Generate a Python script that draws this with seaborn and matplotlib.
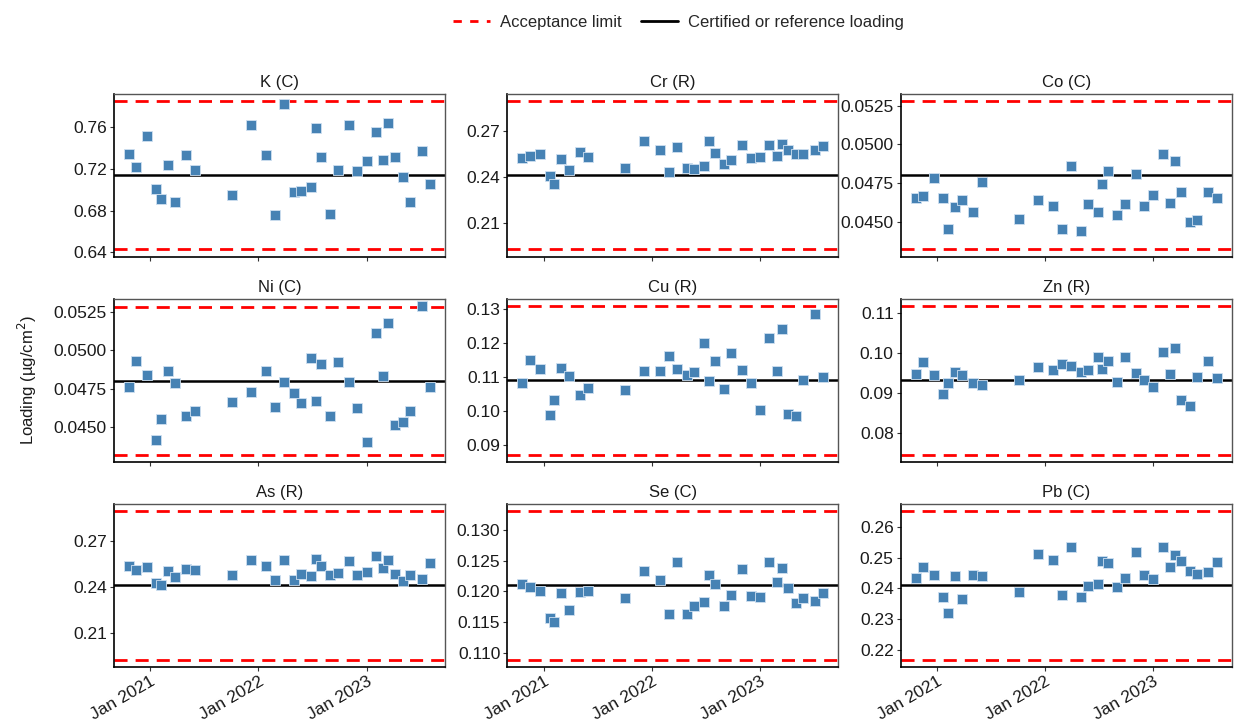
import numpy as np
import pandas as pd
import matplotlib
matplotlib.use("Agg")
import matplotlib.pyplot as plt
import matplotlib.dates as mdates
from matplotlib.ticker import MultipleLocator, FormatStrFormatter
from matplotlib.lines import Line2D
import seaborn as sns

# ---------------------------------
# Data
# ---------------------------------

dates = pd.to_datetime([
    "2020-10-21", "2020-11-15", "2020-12-20", "2021-01-21", "2021-02-06",
    "2021-03-01", "2021-03-26", "2021-05-03", "2021-06-01", "2021-10-03",
    "2021-12-07", "2022-01-27", "2022-02-27", "2022-03-28", "2022-05-01",
    "2022-05-24", "2022-06-27", "2022-07-13", "2022-08-01", "2022-09-01",
    "2022-09-27", "2022-11-03", "2022-12-01", "2023-01-01", "2023-02-01",
    "2023-02-27", "2023-03-16", "2023-04-06", "2023-05-04", "2023-05-28",
    "2023-07-06", "2023-08-03",
])

panels = ["K (C)", "Cr (R)", "Co (C)", "Ni (C)", "Cu (R)", "Zn (R)",
          "As (R)", "Se (C)", "Pb (C)"]

# certified / reference loading and acceptance fraction
ref_values = [0.714, 0.241, 0.048, 0.048, 0.109, 0.0932, 0.241, 0.121, 0.241]
tolerance = [0.10, 0.20, 0.10, 0.10, 0.20, 0.20, 0.20, 0.10, 0.10]

K = [0.7344, 0.7215, 0.7518, 0.7003, 0.6912, 0.7243, 0.6883, 0.7338, 0.7193,
     0.6953, 0.7625, 0.7338, 0.6754, 0.7827, 0.6975, 0.6984, 0.7022, 0.7597,
     0.7313, 0.6763, 0.7186, 0.7625, 0.7177, 0.7278, 0.7559, 0.7291, 0.7638,
     0.7313, 0.7123, 0.6883, 0.7370, 0.7051]
Cr = [0.2523, 0.2532, 0.2547, 0.2402, 0.2350, 0.2514, 0.2445, 0.2558, 0.2525,
      0.2456, 0.2633, 0.2571, 0.2430, 0.2594, 0.2456, 0.2448, 0.2469, 0.2631,
      0.2553, 0.2484, 0.2512, 0.2605, 0.2519, 0.2525, 0.2605, 0.2532, 0.2614,
      0.2571, 0.2549, 0.2549, 0.2571, 0.2601]
Co = [0.04651, 0.04668, 0.04785, 0.04651, 0.04451, 0.04592, 0.04641, 0.04560,
      0.04758, 0.04519, 0.04641, 0.04600, 0.04451, 0.04860, 0.04440, 0.04611,
      0.04560, 0.04741, 0.04830, 0.04540, 0.04611, 0.04811, 0.04600, 0.04670,
      0.04937, 0.04621, 0.04892, 0.04690, 0.04500, 0.04511, 0.04692, 0.04651]
Ni = [0.04761, 0.04931, 0.04838, 0.04414, 0.04552, 0.04862, 0.04787, 0.04571,
      0.04601, 0.04662, 0.04731, 0.04862, 0.04632, 0.04791, 0.04720, 0.04653,
      0.04953, 0.04672, 0.04912, 0.04571, 0.04922, 0.04791, 0.04623, 0.04403,
      0.05112, 0.04830, 0.05179, 0.04511, 0.04530, 0.04601, 0.05289, 0.04761]
Cu = [0.1082, 0.1149, 0.1122, 0.0988, 0.1031, 0.1126, 0.1102, 0.1048, 0.1068,
      0.1061, 0.1118, 0.1117, 0.1162, 0.1122, 0.1104, 0.1113, 0.1200, 0.1089,
      0.1146, 0.1063, 0.1169, 0.1119, 0.1081, 0.1002, 0.1215, 0.1118, 0.1240,
      0.0990, 0.0985, 0.1091, 0.1285, 0.1099]
Zn = [0.0948, 0.0977, 0.0944, 0.0898, 0.0925, 0.0953, 0.0945, 0.0925, 0.0921,
      0.0933, 0.0966, 0.0958, 0.0973, 0.0967, 0.0953, 0.0957, 0.0990, 0.0960,
      0.0980, 0.0928, 0.0990, 0.0950, 0.0932, 0.0916, 0.1004, 0.0947, 0.1012,
      0.0882, 0.0868, 0.0940, 0.0980, 0.0938]
As = [0.2538, 0.2508, 0.2527, 0.2428, 0.2409, 0.2504, 0.2465, 0.2519, 0.2508,
      0.2480, 0.2573, 0.2538, 0.2445, 0.2577, 0.2443, 0.2486, 0.2471, 0.2581,
      0.2536, 0.2478, 0.2491, 0.2571, 0.2480, 0.2499, 0.2603, 0.2525, 0.2577,
      0.2482, 0.2435, 0.2480, 0.2448, 0.2558]
Se = [0.1212, 0.1208, 0.1201, 0.1156, 0.1150, 0.1198, 0.1169, 0.1199, 0.1201,
      0.1189, 0.1233, 0.1219, 0.1163, 0.1248, 0.1164, 0.1176, 0.1182, 0.1227,
      0.1212, 0.1177, 0.1195, 0.1236, 0.1193, 0.1191, 0.1248, 0.1215, 0.1238,
      0.1206, 0.1181, 0.1189, 0.1184, 0.1197]
Pb = [0.2434, 0.2470, 0.2445, 0.2371, 0.2321, 0.2441, 0.2364, 0.2443, 0.2441,
      0.2388, 0.2512, 0.2493, 0.2377, 0.2535, 0.2371, 0.2409, 0.2415, 0.2488,
      0.2483, 0.2403, 0.2435, 0.2518, 0.2445, 0.2432, 0.2535, 0.2470, 0.2508,
      0.2489, 0.2458, 0.2448, 0.2454, 0.2487]

values = [K, Cr, Co, Ni, Cu, Zn, As, Se, Pb]

# y tick step and label format per panel
tick_steps = [0.04, 0.03, 0.0025, 0.0025, 0.01, 0.01, 0.03, 0.005, 0.01]
tick_fmts = ["%.2f", "%.2f", "%.4f", "%.4f", "%.2f", "%.2f", "%.2f", "%.3f", "%.2f"]

# ---------------------------------
# Plot
# ---------------------------------

sns.set_style("white")
plt.rcParams["font.family"] = ["Liberation Sans", "DejaVu Sans"]

fig, axes = plt.subplots(3, 3, figsize=(12.38, 7.25), dpi=100, sharex=True)
fig.subplots_adjust(left=0.092, right=0.995, top=0.871, bottom=0.080,
                    wspace=0.188, hspace=0.255)

dash = (0, (4.7, 2.9))
xlim = (pd.Timestamp("2020-08-31"), pd.Timestamp("2023-09-23"))

for i, ax in enumerate(axes.flat):
    ref = ref_values[i]
    lo, hi = ref * (1 - tolerance[i]), ref * (1 + tolerance[i])
    df = pd.DataFrame({"date": dates, "loading": values[i]})

    ax.axhline(ref, color="black", lw=1.8, zorder=1)
    ax.axhline(hi, color="red", lw=2, linestyle=dash, zorder=1)
    ax.axhline(lo, color="red", lw=2, linestyle=dash, zorder=1)

    sns.scatterplot(data=df, x="date", y="loading", ax=ax, marker="s",
                    s=50, color="steelblue", edgecolor="#cfe0f0",
                    linewidth=0.6, zorder=3)

    ymin = min(min(values[i]), lo)
    ymax = max(max(values[i]), hi)
    pad = 0.05 * (ymax - ymin)
    ax.set_ylim(ymin - pad, ymax + pad)
    ax.set_xlim(xlim)

    ax.yaxis.set_major_locator(MultipleLocator(tick_steps[i]))
    ax.yaxis.set_major_formatter(FormatStrFormatter(tick_fmts[i]))
    ax.set_title(panels[i], fontsize=12, color="#1a1a1a", pad=5)
    ax.set_xlabel("")
    ax.set_ylabel("")
    ax.tick_params(axis="both", labelsize=12.5, colors="#333333",
                   labelcolor="#1a1a1a", length=3, width=0.8,
                   left=True, bottom=True, pad=2)

    for side in ["top", "right"]:
        ax.spines[side].set_color("#555555")
        ax.spines[side].set_linewidth(1.0)
    for side in ["left", "bottom"]:
        ax.spines[side].set_color("black")
        ax.spines[side].set_linewidth(1.2)

    ax.xaxis.set_major_locator(mdates.YearLocator())
    ax.xaxis.set_major_formatter(mdates.DateFormatter("%b %Y"))

for ax in axes[-1]:
    for lab in ax.get_xticklabels():
        lab.set_rotation(30)
        lab.set_ha("right")
        lab.set_rotation_mode("anchor")

fig.text(0.022, 0.476, "Loading (\u00b5g/cm$^2$)", rotation=90,
         va="center", ha="center", fontsize=12, color="#1a1a1a")

handles = [
    Line2D([], [], color="red", lw=2, linestyle=(0, (3, 3))),
    Line2D([], [], color="black", lw=2),
]
fig.legend(handles, ["Acceptance limit", "Certified or reference loading"],
           loc="upper center", bbox_to_anchor=(0.548, 1.0), ncol=2,
           frameon=False, fontsize=12, handlelength=2.2, columnspacing=1.2,
           handletextpad=0.6)

plt.savefig("out.png", dpi=100)
